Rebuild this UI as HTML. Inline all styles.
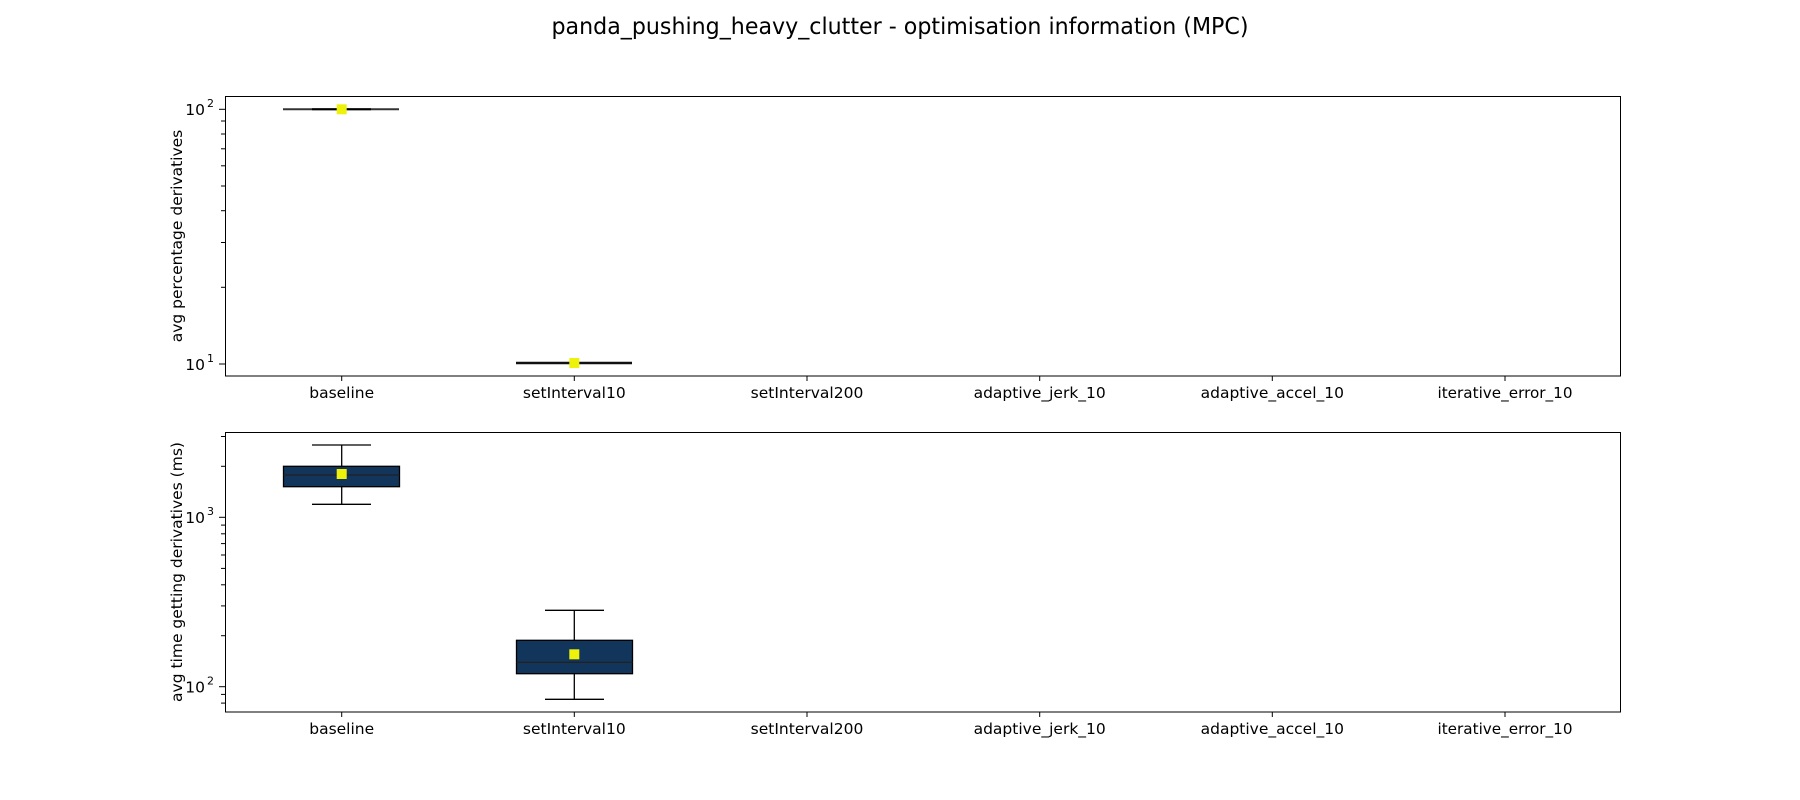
<!DOCTYPE html>
<html><head><meta charset="utf-8"><style>html,body{margin:0;padding:0;background:#fff}svg{display:block}</style></head><body>
<svg width="1800" height="800" viewBox="0 0 1800 800" xmlns="http://www.w3.org/2000/svg" font-family="DejaVu Sans, Liberation Sans, sans-serif">
<rect width="1800" height="800" fill="#fff"/>
<text x="900" y="34" font-size="23" text-anchor="middle" textLength="697" lengthAdjust="spacingAndGlyphs">panda_pushing_heavy_clutter - optimisation information (MPC)</text>

<!-- TOP AXES -->
<g stroke="#000" stroke-width="1">
<line x1="221" x2="225" y1="287.3" y2="287.3"/><line x1="221" x2="225" y1="242.5" y2="242.5"/><line x1="221" x2="225" y1="210.7" y2="210.7"/><line x1="221" x2="225" y1="186" y2="186"/><line x1="221" x2="225" y1="165.8" y2="165.8"/><line x1="221" x2="225" y1="148.8" y2="148.8"/><line x1="221" x2="225" y1="134" y2="134"/><line x1="221" x2="225" y1="121" y2="121"/>
<line x1="219" x2="225" y1="109.3" y2="109.3"/><line x1="219" x2="225" y1="364" y2="364"/>
</g>
<line x1="283" x2="399" y1="109.3" y2="109.3" stroke="#333" stroke-width="2"/>
<line x1="312" x2="371" y1="109.3" y2="109.3" stroke="#000" stroke-width="2"/>
<rect x="336.7" y="104.3" width="10" height="10" fill="#eef20a"/>
<line x1="516" x2="632" y1="363" y2="363" stroke="#111" stroke-width="2.5"/>
<rect x="569.3" y="358" width="10" height="10" fill="#eef20a"/>
<rect x="225.5" y="96.5" width="1395" height="279.5" fill="none" stroke="#000" stroke-width="1"/>
<g stroke="#000"><line x1="341.7" x2="341.7" y1="376" y2="381"/><line x1="574.3" x2="574.3" y1="376" y2="381"/><line x1="807" x2="807" y1="376" y2="381"/><line x1="1039.7" x2="1039.7" y1="376" y2="381"/><line x1="1272.3" x2="1272.3" y1="376" y2="381"/><line x1="1505" x2="1505" y1="376" y2="381"/></g>
<g font-size="15.5" text-anchor="middle">
<text x="341.7" y="398">baseline</text><text x="574.3" y="398">setInterval10</text><text x="807" y="398">setInterval200</text><text x="1039.7" y="398">adaptive_jerk_10</text><text x="1272.3" y="398">adaptive_accel_10</text><text x="1505" y="398" textLength="135" lengthAdjust="spacingAndGlyphs">iterative_error_10</text>
</g>
<g font-size="15.5" text-anchor="end">
<text x="205" y="115">10</text><text x="214" y="107" font-size="11">2</text>
<text x="205" y="370">10</text><text x="214" y="362" font-size="11">1</text>
</g>
<text transform="translate(182,236) rotate(-90)" font-size="15.5" text-anchor="middle">avg percentage derivatives</text>

<!-- BOTTOM AXES -->
<g stroke="#000" stroke-width="1">
<line x1="219" x2="225" y1="517.3" y2="517.3"/><line x1="219" x2="225" y1="686.7" y2="686.7"/>
<line x1="221" x2="225" y1="466.3" y2="466.3"/><line x1="221" x2="225" y1="436.5" y2="436.5"/>
<line x1="221" x2="225" y1="635.7" y2="635.7"/><line x1="221" x2="225" y1="605.9" y2="605.9"/><line x1="221" x2="225" y1="584.8" y2="584.8"/><line x1="221" x2="225" y1="568.4" y2="568.4"/><line x1="221" x2="225" y1="555" y2="555"/><line x1="221" x2="225" y1="543.6" y2="543.6"/><line x1="221" x2="225" y1="533.8" y2="533.8"/><line x1="221" x2="225" y1="525.1" y2="525.1"/>
<line x1="221" x2="225" y1="703.1" y2="703.1"/><line x1="221" x2="225" y1="694.4" y2="694.4"/>
</g>
<g stroke="#000" stroke-width="1.3">
<line x1="341.7" x2="341.7" y1="445" y2="466.3"/><line x1="341.7" x2="341.7" y1="486.7" y2="504.3"/>
<line x1="312" x2="371" y1="445" y2="445"/><line x1="312" x2="371" y1="504.3" y2="504.3"/>
<rect x="283.5" y="466.3" width="116" height="20.4" fill="#12355b"/>
<line x1="283.5" x2="399.5" y1="475" y2="475" stroke="#222"/>
<line x1="574.3" x2="574.3" y1="610.3" y2="640.3"/><line x1="574.3" x2="574.3" y1="673.7" y2="699.3"/>
<line x1="545" x2="604" y1="610.3" y2="610.3"/><line x1="545" x2="604" y1="699.3" y2="699.3"/>
<rect x="516.5" y="640.3" width="116" height="33.4" fill="#12355b"/>
<line x1="516.5" x2="632.5" y1="662.3" y2="662.3" stroke="#222"/>
</g>
<rect x="336.7" y="469" width="10" height="10" fill="#eef20a"/>
<rect x="569.3" y="649.3" width="10" height="10" fill="#eef20a"/>
<rect x="225.5" y="432.5" width="1395" height="279.5" fill="none" stroke="#000" stroke-width="1"/>
<g stroke="#000"><line x1="341.7" x2="341.7" y1="712" y2="717"/><line x1="574.3" x2="574.3" y1="712" y2="717"/><line x1="807" x2="807" y1="712" y2="717"/><line x1="1039.7" x2="1039.7" y1="712" y2="717"/><line x1="1272.3" x2="1272.3" y1="712" y2="717"/><line x1="1505" x2="1505" y1="712" y2="717"/></g>
<g font-size="15.5" text-anchor="middle">
<text x="341.7" y="734">baseline</text><text x="574.3" y="734">setInterval10</text><text x="807" y="734">setInterval200</text><text x="1039.7" y="734">adaptive_jerk_10</text><text x="1272.3" y="734">adaptive_accel_10</text><text x="1505" y="734" textLength="135" lengthAdjust="spacingAndGlyphs">iterative_error_10</text>
</g>
<g font-size="15.5" text-anchor="end">
<text x="205" y="523">10</text><text x="214" y="515" font-size="11">3</text>
<text x="205" y="692.5">10</text><text x="214" y="684.5" font-size="11">2</text>
</g>
<text transform="translate(182,572) rotate(-90)" font-size="15.5" text-anchor="middle">avg time getting derivatives (ms)</text>
</svg>
</body></html>
